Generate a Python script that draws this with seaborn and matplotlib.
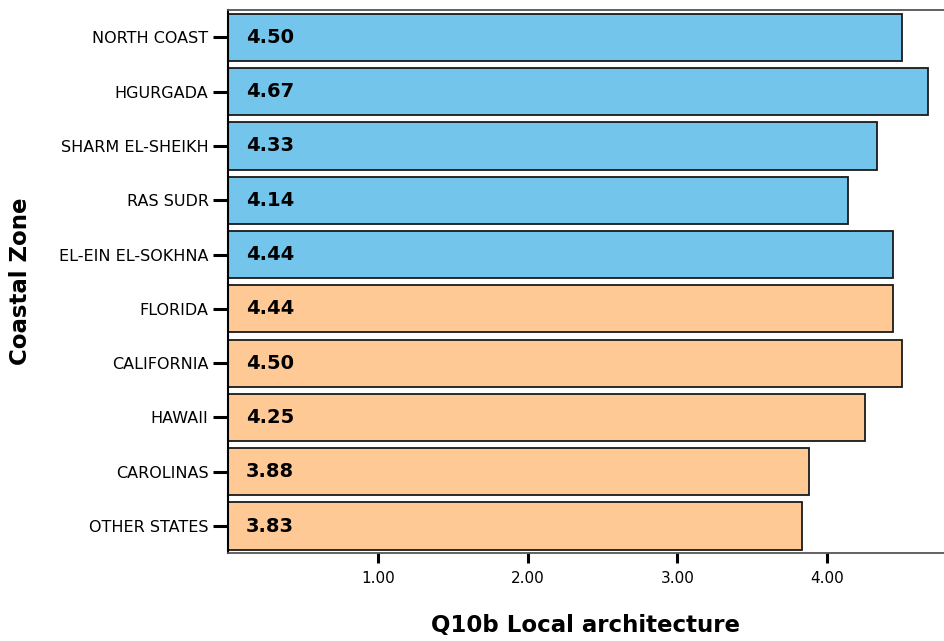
import pandas as pd
import seaborn as sns
import matplotlib.pyplot as plt

# categories and mean scores
zones = ['NORTH COAST', 'HGURGADA', 'SHARM EL-SHEIKH', 'RAS SUDR', 'EL-EIN EL-SOKHNA',
         'FLORIDA', 'CALIFORNIA', 'HAWAII', 'CAROLINAS', 'OTHER STATES']
scores = [4.50, 4.67, 4.33, 4.14, 4.44, 4.44, 4.50, 4.25, 3.88, 3.83]
region = ['Egypt'] * 5 + ['USA'] * 5
xticks = [1, 2, 3, 4]

df = pd.DataFrame({'zone': zones, 'score': scores, 'region': region})

sns.set_style('white')
plt.rcParams['font.family'] = ['DejaVu Sans']

fig = plt.figure(figsize=(9.44, 6.41), dpi=100)
ax = fig.add_axes([0.2415, 0.137, 0.7585, 0.847])

sns.barplot(data=df, y='zone', x='score', hue='region', orient='h',
            palette={'Egypt': '#74C5EC', 'USA': '#FFC995'}, dodge=False,
            saturation=1, width=0.87, edgecolor='#1a1a1a', linewidth=1.3,
            legend=False, ax=ax)

# value labels inside the bars
for i, v in enumerate(scores):
    ax.text(0.12, i, f'{v:.2f}', va='center', ha='left',
            fontsize=14, fontweight='bold', color='black')

ax.set_xlim(0, 4.78)
ax.set_ylim(9.5, -0.5)
ax.set_xticks(xticks)
ax.set_xticklabels([f'{t:.2f}' for t in xticks], fontsize=11, color='black')
ax.set_yticks(range(len(zones)))
ax.set_yticklabels(zones, fontsize=11.5, color='black')
ax.tick_params(axis='y', length=11, width=2.2, direction='out', left=True, pad=3, color='black')
ax.tick_params(axis='x', length=7, width=2.2, direction='out', bottom=True, pad=6, color='black')

for side in ['top', 'bottom']:
    ax.spines[side].set_color('#555555')
    ax.spines[side].set_linewidth(1.3)
ax.spines['left'].set_color('black')
ax.spines['left'].set_linewidth(1.5)
ax.spines['right'].set_visible(False)

ax.set_xlabel('Q10b Local architecture', fontsize=16.5, fontweight='bold', color='black')
ax.set_ylabel('Coastal Zone', fontsize=16.5, fontweight='bold', color='black')
ax.xaxis.set_label_coords(0.5, -0.112)
ax.yaxis.set_label_coords(-0.274, 0.5)

fig.savefig('out.png', dpi=100)
